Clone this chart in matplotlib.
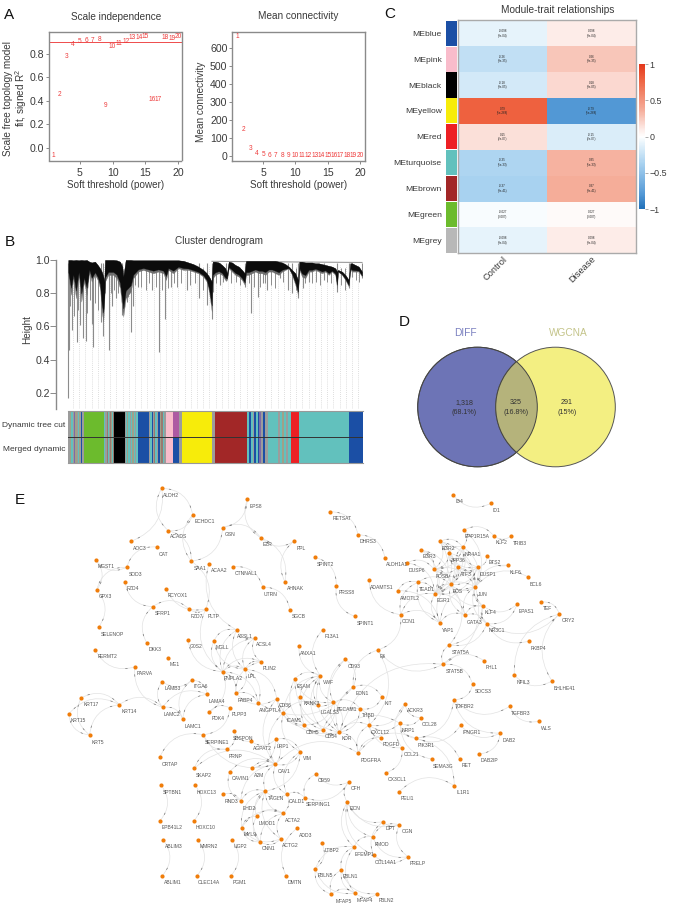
import numpy as np
import matplotlib
matplotlib.use("Agg")
import matplotlib.pyplot as plt
from matplotlib.collections import LineCollection, PathCollection
from matplotlib.colors import LinearSegmentedColormap
from matplotlib.patches import Circle
from matplotlib.path import Path

plt.rcParams["font.family"] = ["Liberation Sans", "DejaVu Sans"]
plt.rcParams["axes.unicode_minus"] = False
plt.rcParams["mathtext.default"] = "regular"

W, H = 676, 909
TXT = "#3a3a3a"
AXC = "#8a8a8a"

# panel A
powers = list(range(1, 21))
scale_fit = [-0.07, 0.453, 0.777, 0.883, 0.908, 0.914, 0.917, 0.923, 0.362, 0.866,
             0.891, 0.908, 0.937, 0.937, 0.948, 0.41, 0.413, 0.945, 0.931, 0.948]
mean_conn = [661, 146, 43, 15, 7, 4, 3, 2, 1, 1, 1, 1, 1, 1, 1, 1, 1, 1, 1, 1]

# panel B
drop_x = [68.3, 69.3, 71.7, 76.7, 82.7, 85.7, 80, 93.3, 92.3, 102.7, 101.3, 108.7, 112.3, 122.3,
          116, 131, 126.7, 133, 138.3, 152.3, 159, 165, 170.7, 186.7, 199.3, 207.3, 211.7,
          212.7, 220.3, 226, 245.3, 251.3, 258, 263, 267, 280.3, 288, 292, 298, 302.7, 308.7,
          323.7, 337, 348.7, 352, 362]
drop_h = [.167, .458, .578, .508, .532, .512, .608, .478, .613, .544, .628, .458, .72, .669,
          .77, .564, .749, .72, .84, .82, .448, .643, .84, .82, .77, .73, .644,
          .81, .85, .873, .84, .679, .779, .86, .82, .892, .82, .8, .773, .83, .87,
          .88, .81, .833, .9, .89]
band_x = [68.3, 71, 73.3, 76, 78.7, 81.3, 84, 86.7, 89.3, 91.7, 95, 97.7, 100, 101.7, 103.3, 104.3,
          105, 108.3, 113.3, 116.7, 120, 122.3, 123.3, 125.7, 128.3, 130.7, 133.3, 138.3, 143.3,
          148.3, 153.3, 158.3, 163.3, 166, 168.3, 173.3, 178.3, 183.3, 188.3, 193.3, 198.3, 203.3,
          206.7, 209, 211.7, 212.7, 215.3, 218.7, 222, 225.3, 227, 228.7, 232, 235.3, 238.7, 242,
          244.7, 246, 248.7, 252, 255.3, 258.7, 262, 265.3, 268.7, 272, 275.3, 278.7, 282, 285.3,
          288.7, 292, 295.3, 298, 299.3, 302, 305.3, 308.7, 312, 315.3, 318.7, 322, 325.3, 328.7,
          332, 335.3, 337, 338, 342, 345.3, 348.7, 350.3, 352, 355.3, 358.7, 362]
band_top = [1.0, 1.0, .998, 1.0, .998, 1.0, .998, 1.0, .99, .985, .99, .97, .95, .93, .9, .87,
            1.0, 1.0, 1.0, .998, .99, .96, .9, 1.0, 1.0, 1.0, .998, .998, .998,
            .998, .998, .998, .998, .998, .998, .998, .998, .995, .985, .975, .96, .94,
            .92, .9, .87, .99, .99, .985, .97, .95, .92, .99, .985, .97, .96, .94,
            .92, .995, .995, .995, .995, .995, .995, .995, .995, .995, .995, .99, .985, .975,
            .96, .94, .92, .88, .99, .99, .985, .985, .985, .98, .98, .975, .97, .965,
            .96, .95, .93, .94, .93, .91, .88, .98, .98, .97, .96, .93]
band_bottom = [.91, .79, .89, .769, .91, .749, .869, .79, .93, .869, .91, .879, .83, .689, .628, .75,
               .869, .91, .91, .89, .83, .699, .66, .769, .79, .809, .89, .93, .94,
               .93, .92, .93, .92, .879, .94, .92, .95, .94, .94, .93, .92, .9,
               .869, .809, .689, .89, .91, .92, .91, .879, .88, .95, .93, .91, .9, .879,
               .85, .91, .91, .92, .93, .92, .92, .91, .93, .93, .92, .91, .93, .94,
               .95, .91, .85, .79, .94, .9, .89, .93, .93, .94, .93, .92, .93, .91,
               .93, .91, .83, .93, .91, .88, .84, .94, .93, .93, .93, .9]
short_x = [70, 74, 78, 83, 87, 90, 95, 98, 105, 111, 114, 118, 125, 128, 135, 141, 146, 149, 156, 162,
           168, 174, 177, 181, 190, 195, 203, 216, 223, 231, 236, 240, 249, 254, 260, 265, 271, 275,
           283, 296, 305, 312, 316, 320, 327, 331, 341, 345, 356, 359]
short_h = [.72, .66, .7, .62, .68, .76, .74, .7, .8, .8, .82, .8, .8, .78, .85, .84, .82, .86, .84, .82,
           .83, .86, .84, .86, .85, .86, .82, .86, .87, .86, .87, .85, .86, .84, .84, .86, .85, .83,
           .87, .82, .86, .86, .87, .85, .87, .86, .85, .82, .88, .87]

GY, OL, TE, BL, GR = "#9c9c9c", "#a0a088", "#62c1bd", "#1b4fa5", "#6cbb2d"
BR, PU, PI, MA, YE = "#9a7a70", "#7d6aa8", "#f9bccb", "#ad5aa2", "#f7ec0a"
DB, RE, BK = "#a22727", "#ed2024", "#000000"
strip_edges = [68, 70, 71, 72.5, 74, 75, 76.5, 78, 79, 80, 81, 82, 84, 104, 105, 106.5, 107.5, 108.5,
               110, 111, 112, 113, 114, 124.7, 126, 127, 128, 129.5, 131, 132, 133.5, 135, 136, 138,
               149, 150, 151.5, 153, 154, 155, 156.5, 158, 159.5, 161, 163, 164, 165.7, 172.7, 179.3,
               182, 212.3, 215, 247.3, 249, 251, 252.5, 254, 256, 257.5, 259, 261, 263, 265, 268,
               278, 280, 282, 284, 286, 288, 290.7, 298.3, 349, 362.7]
strip_cut = [GY, OL, TE, GY, PU, OL, GY, TE, OL, GY, BL, GY, GR, TE, GY, BR, TE, GY,
             BR, OL, TE, BR, BK, GY, TE, OL, TE, GY, TE, OL, TE, GY, TE, BL,
             GY, TE, BL, GY, BR, TE, GY, BL, OL, BR, TE, GY, PI, MA, GY,
             YE, GY, DB, TE, BL, TE, GY, BL, TE, BL, PU, GY, BL, GY, TE,
             GY, TE, OL, TE, GY, TE, RE, TE, BL]
strip_merged = [c if c != MA else BL for c in strip_cut]

# panel C
module_names = ["MEblue", "MEpink", "MEblack", "MEyellow", "MEred", "MEturquoise", "MEbrown", "MEgreen", "MEgrey"]
module_colors = ["#1b4fa5", "#f9bccb", "#000000", "#f7ec0a", "#ed2024", "#62c1bd", "#a22727", "#6cbb2d", "#b8b8b8"]
trait_names = ["Control", "Disease"]
control_cor = [-0.098, -0.26, -0.18, 0.79, 0.15, -0.35, -0.37, -0.027, -0.098]
disease_cor = [0.098, 0.26, 0.18, -0.79, -0.15, 0.35, 0.37, 0.027, 0.098]
control_lab = ["-0.098", "-0.26", "-0.18", "0.79", "0.15", "-0.35", "-0.37", "-0.027", "-0.098"]
disease_lab = ["0.098", "0.26", "0.18", "-0.79", "-0.15", "0.35", "0.37", "0.027", "0.098"]
pvals = ["3e-04", "3e-35", "3e-05", "5e-268", "2e-07", "5e-33", "3e-41", "0.007", "3e-04"]

# panel D
venn_counts = ["1,318\n(68.1%)", "325\n(16.8%)", "291\n(15%)"]

# panel E, node positions
genes = ["ALDH2", "ECHDC1", "ACADS", "AOC3", "CAT", "EPS8", "GSN", "EZR", "PPL", "RETSAT",
         "SPINT2", "MGST1", "SOD3", "SAA1", "ACAA2", "CTNNAL1", "FZD4", "GPX3", "PCYOX1", "UTRN",
         "AHNAK", "PRSS8", "SFRP1", "FZD7", "PLTP", "SGCB", "SELENOP", "F13A1", "DKK3", "G0S2",
         "MGLL", "ACSL1", "ACSL4", "ANXA1", "FERMT2", "ME1", "PLIN2", "PARVA", "PNPLA2", "LPL",
         "LAMB3", "ITGA6", "ESAM", "VWF", "LAMA4", "FABP4", "KRT17", "KRT14", "KRT15", "KRT5",
         "LAMC2", "LAMC1", "PDK4", "PLPP3", "ANGPTL4", "CD36", "KANK3", "LGALS3", "PECAM1", "ICAM1",
         "CDH5", "CD34", "KDR", "SERPINE1", "SBSPON", "AGPAT2", "LRP1", "PRNP", "VIM", "CRTAP",
         "SKAP2", "A2M", "CAV1", "CAVIN1", "CD59", "SPTBN1", "HOXC13", "RND3", "EHD2", "TAGLN",
         "CALD1", "SERPING1", "ACTA2", "LMOD1", "MYL9", "ADD3", "EPB41L2", "HOXC10", "ABLIM3", "MMRN2",
         "UGP2", "CNN1", "ACTG2", "LTBP2", "ABLIM1", "CLEC14A", "PGM1", "DMTN", "FBLN5", "MFAP5",
         "ID4", "ID1", "PPP1R15A", "KLF2", "TRIB3", "EGR2", "NR4A1", "ZFP36", "EGR3", "ETS2",
         "KLF6", "DHRS3", "ALDH1A1", "DUSP6", "FOSB", "ATF3", "DUSP1", "BCL6", "ADAMTS1", "TEAD1",
         "FOS", "JUN", "AMOTL2", "EGR1", "KLF4", "EPAS1", "TEF", "CRY2", "CCN1", "GATA3",
         "NR3C1", "YAP1", "SPINT1", "FKBP4", "STAT5A", "F3", "FHL1", "CD93", "STAT5B", "NFIL3",
         "BHLHE41", "SOCS3", "EDN1", "KIT", "ACKR3", "TGFBR2", "TGFBR3", "WLS", "THBD", "CCL28",
         "IFNGR1", "NRP1", "CXCL12", "PDGFD", "PIK3R1", "DAB2", "CCL21", "PDGFRA", "DAB2IP", "SEMA3G",
         "RET", "CX3CL1", "CFH", "IL1R1", "PELI1", "DCN", "DPT", "OGN", "FMOD", "EFEMP1",
         "COL14A1", "PRELP", "FBLN1", "MFAP4", "FBLN2"]
node_x = [161.7, 192.7, 168.3, 131, 157, 247.3, 222.7, 260.7, 294.3, 330.3,
          314.7, 95.7, 126.7, 191.3, 209, 233.3, 125, 96.7, 166, 262.7,
          285, 336.3, 152.7, 189, 205.7, 290, 98.7, 322.7, 146.7, 188,
          214, 236.7, 254.7, 299, 95.3, 168, 261, 134.7, 222.7, 245,
          162.3, 192, 294.7, 320.3, 207.3, 235.7, 81, 119.3, 68.7, 89.7,
          162.7, 182.7, 209.3, 230, 258.3, 276.7, 300, 318.3, 333.3, 283.3,
          304.3, 322.7, 339.3, 203.3, 234.3, 250.7, 275.7, 226.7, 300.3, 159.7,
          194.3, 251.7, 275.3, 229.7, 316, 161, 195, 223, 240.7, 265.3,
          286.7, 304.7, 283.3, 256.7, 241.7, 297, 160, 194, 163.3, 198,
          232, 260.3, 280.7, 322, 162.3, 197, 231, 286.3, 315.3, 331.3,
          453, 491, 464, 493.7, 510.7, 440, 462.7, 449.3, 420.7, 487.3,
          507.7, 358, 385, 406.7, 434, 458, 477.7, 528.3, 369, 418,
          450.7, 475.3, 397.7, 434.7, 483, 517, 541, 559.3, 400.7, 465,
          487, 440, 354.7, 529, 449.3, 377.7, 484, 345.3, 443, 514.3,
          552, 472.7, 353.3, 382, 405, 453.7, 509.7, 538.7, 360, 420.7,
          460.7, 400, 369, 381, 415.7, 500.3, 402, 358.3, 479.3, 431.7,
          459.7, 386, 348.7, 454.3, 399, 347.3, 383.3, 399.3, 372.7, 354,
          373.7, 408, 341.3, 355.3, 377]
node_y = [488.3, 514.7, 530.7, 541.3, 547, 499.3, 527.7, 537.7, 541, 511.7,
          557.3, 560, 567.3, 561.3, 563.7, 566.7, 582, 590, 588.7, 587,
          582, 586, 606.7, 609, 609, 609.7, 627, 629.7, 642.7, 640,
          640.7, 630, 638, 646.3, 650, 658, 661.7, 667, 671.7, 669.3,
          681.7, 680, 679, 675.7, 694.3, 693.3, 698, 704.7, 714, 735,
          707.3, 719, 712, 708, 703.3, 698.7, 696.7, 705, 702.3, 713,
          725, 729.7, 732.3, 734.7, 731, 741.3, 739.3, 749.3, 751.7, 757.3,
          768.3, 768.3, 764.3, 771.7, 774, 785, 785, 794.3, 801, 791,
          794.3, 797.7, 813.3, 816.3, 827.7, 828.3, 820.7, 820.7, 840, 840,
          840, 842, 838.7, 843.3, 875.7, 875.7, 875.7, 876, 868.7, 894.3,
          494.7, 503.3, 530, 535.7, 536.3, 541.3, 547, 553, 550, 555.7,
          565.3, 534.7, 558, 562.7, 569.3, 567.3, 567, 577, 580.3, 582.3,
          584.3, 587, 590.7, 593.7, 606, 604.3, 602, 614, 614.7, 615,
          623.7, 622.7, 616.3, 641, 645, 650, 660.7, 659.3, 664.3, 675,
          681, 684.3, 687, 696.7, 704, 699.7, 706.3, 721.3, 708.7, 717.7,
          725.3, 723.3, 725.3, 737.7, 738.3, 733, 747.7, 753, 754, 759,
          758.7, 772.7, 782, 785.7, 792, 802, 821.7, 824.7, 837, 847,
          855.3, 856.7, 870, 893.3, 893.7]
label_x = [171.3, 204.7, 178.7, 139.7, 164, 256, 230, 267.7, 301.3, 342,
           325, 105.7, 135.7, 199.7, 219, 246, 132.7, 105, 177.7, 270.7,
           295.7, 346.7, 162.3, 197, 214, 299, 112, 331.7, 155, 196,
           222, 245, 264, 308.7, 107, 175, 269.7, 145, 233.3, 251.7,
           172.3, 201, 303.7, 328.3, 217.3, 245.7, 91.3, 129, 78, 98,
           172.3, 192.7, 217.7, 239.7, 270, 285, 311.7, 330, 347.3, 294.3,
           312.7, 330.7, 347.3, 217, 243.3, 262.3, 283.3, 235.3, 307, 169.7,
           204, 259, 283.7, 240.3, 324, 172.7, 206.7, 231.7, 249, 275.7,
           296.7, 318.7, 292.7, 267, 250, 305.3, 172.3, 205.7, 174, 208.7,
           240.3, 268.7, 290.7, 331.7, 172.7, 209.3, 239.7, 295.3, 325, 343.3,
           459, 496.7, 477.3, 501.3, 519.7, 448.3, 472.3, 458.7, 429.3, 495,
           515.7, 368, 397.3, 416.7, 442, 466.3, 487.7, 536.3, 382, 426.7,
           457.7, 482.7, 409.7, 443, 491, 526.7, 547.3, 568, 409, 474.7,
           496.7, 448, 365, 538.7, 460.3, 382.7, 491.7, 353.7, 454.3, 523,
           564.3, 482.7, 362, 388, 415, 465, 521, 546, 368.7, 430,
           471.3, 408, 380, 391.3, 425.7, 509, 411.3, 370.7, 489.7, 443.3,
           466.7, 397, 355.7, 462.7, 407.3, 354.7, 390.3, 407, 381.7, 364,
           386, 418, 350.7, 365.3, 386.3]
label_y = [495.3, 521.3, 537, 548.7, 554, 506, 534.7, 544.7, 548, 518.5,
           564.7, 567, 574.3, 568.3, 570.7, 573.7, 589, 597, 595.7, 594,
           589, 593, 613.7, 616, 616, 616.7, 634, 636.7, 649.7, 647,
           647.7, 637, 645, 653.3, 657, 665, 668.7, 673.7, 678.7, 676.3,
           688.7, 687, 686, 682.3, 701.7, 700, 705, 711.7, 721, 742,
           714.7, 726, 719, 715, 710.3, 705.7, 703.7, 712, 709.7, 720,
           732, 737, 739, 742, 738, 748.3, 746.3, 756.3, 758.7, 764.3,
           775.3, 775.3, 771.3, 778.7, 781, 792, 792, 801.3, 808.3, 798.3,
           801.3, 804.7, 820.3, 823.3, 835, 835.7, 827.7, 827.7, 847, 847,
           847, 849, 845.7, 850.3, 882.7, 882.7, 882.7, 883, 875.7, 901.7,
           501.7, 510.3, 537, 543, 543.3, 548.3, 554, 560, 557, 562.7,
           572.3, 541.7, 565, 570, 576.3, 574.3, 574, 584.3, 587.7, 589.3,
           591.3, 594, 598, 601, 613, 611.3, 609, 621, 621.7, 622,
           631, 630, 623.7, 648, 652, 657, 667.7, 666.3, 671.3, 682,
           688, 691.3, 693.7, 703.7, 711, 706.7, 713.3, 728.3, 715.7, 724.7,
           732.3, 730.3, 732.3, 745, 745.3, 740, 754.7, 760.3, 761, 766,
           765.7, 779.7, 789, 792.7, 799, 809, 828.7, 831.7, 844, 854,
           862.3, 863.7, 877, 900.3, 900.7]

edges_metabolic = """ALDH2 ACADS,AOC3 ALDH2,ECHDC1 SAA1,ECHDC1 ALDH2,ACADS ECHDC1,SAA1 GSN,GSN EPS8,EPS8 EZR,EZR GSN,EZR PPL,AHNAK EZR,PPL AHNAK,
CAT SOD3,MGST1 SOD3,GPX3 MGST1,SOD3 GPX3,SELENOP GPX3,FZD4 SFRP1,SFRP1 DKK3,FZD7 SFRP1,PCYOX1 PLTP,FZD7 PLTP,PLTP SAA1,SAA1 ACADS,
ACAA2 ACSL1,UTRN CTNNAL1,SGCB UTRN,PRSS8 SPINT2,PRSS8 SPINT1,DHRS3 RETSAT,ALDH1A1 DHRS3,ID4 ID1,
ACSL1 ACSL4,ACSL1 PNPLA2,ACSL1 LPL,ACSL4 PLIN2,ACSL4 LPL,ACSL4 PNPLA2,PLIN2 PNPLA2,PLIN2 LPL,LPL PNPLA2,MGLL PNPLA2,MGLL LPL,
G0S2 PNPLA2,ACSL1 MGLL,PLTP PNPLA2,FABP4 PNPLA2,FABP4 LPL,FABP4 CD36,PLIN2 FABP4,CD36 LPL,ANGPTL4 LPL,ANGPTL4 PNPLA2,ANGPTL4 FABP4,
PDK4 PNPLA2,FERMT2 PARVA,PARVA LAMC2,LAMB3 LAMC2,LAMB3 ITGA6,ITGA6 LAMC1,LAMA4 LAMC1,LAMA4 LAMC2,LAMC1 LAMC2,LAMA4 ITGA6,
LAMC2 KRT14,KRT14 KRT5,KRT17 KRT5,KRT15 KRT5,KRT14 KRT17,KRT14 KRT15,SERPINE1 CRTAP,SERPINE1 PRNP,SERPINE1 PLPP3,SERPINE1 CAV1,PLPP3 PDK4"""
edges_endothelial = """VWF ESAM,VWF CD34,VWF KDR,VWF PECAM1,VWF CDH5,VWF ICAM1,VWF KANK3,VWF LGALS3,ANXA1 VWF,F13A1 VWF,ESAM CDH5,ESAM PECAM1,ESAM KDR,
CDH5 KDR,CDH5 CD34,CDH5 PECAM1,CD34 KDR,CD34 PECAM1,KDR PECAM1,KDR THBD,THBD PECAM1,THBD CD34,THBD KIT,KIT EDN1,EDN1 KDR,EDN1 CD93,CD93 KDR,
CD93 PECAM1,KANK3 CD34,KANK3 PECAM1,LGALS3 ICAM1,ICAM1 CDH5,ICAM1 VIM,ICAM1 CAV1,CD36 CDH5,CD36 KDR,CD36 CAV1,ANGPTL4 EDN1,CXCL12 KDR,CXCL12 PDGFRA,
CXCL12 PDGFD,CXCL12 NRP1,CXCL12 CCL21,CXCL12 ACKR3,CXCL12 THBD,CXCL12 F3,F3 EDN1,PDGFD PDGFRA,PDGFRA KDR,PDGFRA CAV1,NRP1 KDR,NRP1 PIK3R1,NRP1 SEMA3G,
NRP1 CCL28,PIK3R1 PDGFRA,IL1R1 PIK3R1,RET PIK3R1,PIK3R1 TGFBR2,PIK3R1 IFNGR1,ACKR3 CCL28,ACKR3 CCL21,CX3CL1 CCL21,IL1R1 PELI1,DAB2IP DAB2,IFNGR1 DAB2,
TGFBR2 TGFBR3,TGFBR3 WLS,TGFBR2 DAB2,TGFBR2 SOCS3,SOCS3 STAT5B,STAT5A STAT5B,FHL1 STAT5B,F3 STAT5B,STAT5B KDR,STAT5A NR3C1,STAT5A FOS,STAT5A KLF4,STAT5B JUN"""
edges_early = """FOS JUN,FOS EGR1,FOS FOSB,FOS ATF3,FOS DUSP1,FOS KLF4,FOS NR4A1,FOS EGR2,FOS EGR3,FOS ZFP36,FOS GATA3,FOS YAP1,FOS TEAD1,JUN EGR1,JUN FOSB,JUN ATF3,
JUN DUSP1,JUN KLF4,JUN NR4A1,JUN EGR2,JUN ZFP36,JUN NR3C1,JUN GATA3,JUN YAP1,JUN PPP1R15A,EGR1 EGR2,EGR1 EGR3,EGR1 FOSB,EGR1 ATF3,EGR1 DUSP1,EGR1 NR4A1,
EGR1 ZFP36,EGR1 DUSP6,EGR1 CCN1,EGR1 YAP1,EGR1 TEAD1,TEAD1 YAP1,TEAD1 AMOTL2,TEAD1 CCN1,YAP1 CCN1,YAP1 AMOTL2,ADAMTS1 CCN1,F3 CCN1,FOSB ATF3,FOSB EGR2,
FOSB EGR3,FOSB NR4A1,FOSB DUSP6,FOSB ZFP36,FOSB DUSP1,NR4A1 PPP1R15A,NR4A1 EGR2,NR4A1 ZFP36,NR4A1 DUSP1,NR4A1 ATF3,ZFP36 EGR2,ZFP36 ATF3,ZFP36 DUSP1,
ATF3 DUSP1,DUSP1 KLF4,DUSP1 ETS2,KLF2 TRIB3,KLF2 PPP1R15A,ETS2 KLF6,KLF6 JUN,BCL6 JUN,KLF4 NR3C1,KLF4 GATA3,KLF4 EPAS1,NR3C1 EPAS1,NR3C1 FKBP4,NR3C1 CRY2,
NR3C1 GATA3,GATA3 YAP1,GATA3 EGR1,CRY2 TEF,CRY2 BHLHE41,CRY2 NFIL3,NFIL3 BHLHE41"""
edges_contractile = """CAV1 A2M,CAV1 CAVIN1,CAV1 SKAP2,CAV1 LRP1,CAV1 VIM,CAV1 TAGLN,CAV1 CALD1,CAV1 EHD2,CAVIN1 EHD2,EHD2 RND3,TAGLN ACTA2,TAGLN LMOD1,TAGLN MYL9,TAGLN CNN1,
TAGLN ACTG2,TAGLN CALD1,TAGLN EHD2,TAGLN VIM,ACTA2 LMOD1,ACTA2 MYL9,ACTA2 CNN1,ACTA2 ACTG2,ACTA2 CALD1,LMOD1 MYL9,LMOD1 CNN1,MYL9 CNN1,MYL9 ACTG2,CNN1 ACTG2,
ADD3 DMTN,CD59 SERPING1,SERPING1 CALD1,SERPING1 CFH,VIM LRP1,VIM CALD1,PRNP SBSPON,SBSPON AGPAT2,AGPAT2 LRP1,A2M LRP1,PRNP SKAP2,EPB41L2 SPTBN1,HOXC10 HOXC13,
ABLIM1 ABLIM3,CLEC14A MMRN2,PGM1 UGP2,DCN DPT,DCN OGN,DCN FMOD,DCN EFEMP1,DCN COL14A1,DPT OGN,OGN PRELP,OGN FMOD,FMOD PRELP,FMOD EFEMP1,DPT COL14A1,COL14A1 PRELP,
EFEMP1 FBLN1,EFEMP1 FBLN5,EFEMP1 MFAP4,FBLN1 FBLN2,FBLN1 MFAP4,FBLN1 MFAP5,FBLN5 MFAP4,FBLN5 LTBP2,FBLN5 MFAP5,MFAP4 FBLN2,MFAP4 MFAP5,CFH DCN,CD59 CFH"""


def px_axes(fig, left, top, right, bottom):
    return fig.add_axes([left / W, 1 - bottom / H, (right - left) / W, (bottom - top) / H])


def style_axis(ax):
    for s in ax.spines.values():
        s.set_color(AXC)
        s.set_linewidth(1.0)
    ax.tick_params(color=AXC, labelcolor=TXT, labelsize=7.6, length=2.5, width=0.7, pad=3)
    ax.tick_params(axis="y", pad=1)


fig = plt.figure(figsize=(W / 100, H / 100), dpi=100)

# full figure layer in pixel coordinates, used by the network, venn and panel texts
bg = fig.add_axes([0, 0, 1, 1])
bg.set_xlim(0, W)
bg.set_ylim(H, 0)
bg.axis("off")

for letter, lx, ly in [("A", 9.5, 15), ("B", 10, 241.5), ("C", 390, 14), ("D", 404.5, 322), ("E", 20, 500)]:
    bg.text(lx, ly, letter, fontsize=11, color="#111111", ha="center", va="center")

# A: scale independence
ax = px_axes(fig, 49, 32, 181.5, 160.5)
for p, v in zip(powers, scale_fit):
    ax.text(p, v, str(p), color="#ee3b3b", fontsize=4.7, ha="center", va="center")
ax.axhline(0.9, color="#ee4b4b", lw=0.7)
ax.set_xlim(0.33, 20.5)
ax.set_ylim(-0.11, 0.988)
ax.set_xticks([5, 10, 15, 20])
ax.set_yticks([0, 0.2, 0.4, 0.6, 0.8])
ax.set_yticklabels(["0.0", "0.2", "0.4", "0.6", "0.8"])
style_axis(ax)
ax.set_xlabel("Soft threshold (power)", fontsize=7.1, color=TXT, labelpad=1)
bg.text(8.5, 98, "Scale free topology model", rotation=90, fontsize=7.2, color=TXT, ha="center", va="center")
bg.text(21.5, 98, "fit, signed R$^2$", rotation=90, fontsize=7.2, color=TXT, ha="center", va="center")
bg.text(116, 17, "Scale independence", fontsize=7.2, color=TXT, ha="center", va="center")

# A: mean connectivity
ax = px_axes(fig, 232.3, 32, 364.7, 160.5)
for p, v in zip(powers, mean_conn):
    ax.text(p, v, str(p), color="#ee3b3b", fontsize=4.7, ha="center", va="center")
ax.set_xlim(0.25, 20.72)
ax.set_ylim(-25, 687)
ax.set_xticks([5, 10, 15, 20])
ax.set_yticks([0, 100, 200, 300, 400, 500, 600])
style_axis(ax)
ax.set_xlabel("Soft threshold (power)", fontsize=7.1, color=TXT, labelpad=1)
bg.text(201, 102, "Mean connectivity", rotation=90, fontsize=7.2, color=TXT, ha="center", va="center")
bg.text(298, 16, "Mean connectivity", fontsize=7.2, color=TXT, ha="center", va="center")

# B: dendrogram
ax = px_axes(fig, 56.3, 260, 363, 409)
ax.set_xlim(56.3, 363)
ax.set_ylim(0.102, 1.0)
ax.vlines(np.arange(73, 363, 6.2), 0.102, 0.97, color="#d4d4d4", lw=0.6, linestyles=(0, (1, 1.5)), zorder=1)
ax.vlines(drop_x, drop_h, 0.98, color="#8c8c8c", lw=0.8, zorder=2)
ax.vlines(short_x, short_h, 0.95, color="#8c8c8c", lw=0.7, zorder=2)
# deep part of the band fades to grey like the thin drops, upper part stays black
band_top_arr = np.array(band_top)
band_low_arr = np.array(band_bottom)
ax.fill_between(band_x, band_low_arr, band_top_arr, color="#6e6e6e", lw=0.2, zorder=3)
ax.fill_between(band_x, band_low_arr + 0.2 * (band_top_arr - band_low_arr), band_top_arr, color="#0c0c0c", lw=0.2, zorder=4)
ax.plot([212, 362], [0.992, 0.985], color="#999999", lw=0.8, zorder=3)
for s in ["top", "right", "bottom"]:
    ax.spines[s].set_visible(False)
style_axis(ax)
ax.set_xticks([])
ax.set_yticks([0.2, 0.4, 0.6, 0.8, 1.0])
ax.tick_params(axis="y", length=4, pad=0.5)
bg.text(27, 329, "Height", rotation=90, fontsize=7.2, color=TXT, ha="center", va="center")
bg.text(219, 241.5, "Cluster dendrogram", fontsize=7.2, color=TXT, ha="center", va="center")

# B: module colour strips
ax = px_axes(fig, 68, 411.3, 363, 463.3)
ax.set_xlim(68, 362.7)
ax.set_ylim(2, 0)
strip_left = np.array(strip_edges[:-1])
strip_width = np.diff(strip_edges)
ax.barh(0.5, strip_width, left=strip_left, height=1, color=strip_cut, lw=0)
ax.barh(1.5, strip_width, left=strip_left, height=1, color=strip_merged, lw=0)
ax.axhline(1, color="#333333", lw=0.7)
ax.set_xticks([])
ax.set_yticks([])
for s in ["left", "right"]:
    ax.spines[s].set_visible(False)
for s in ["top", "bottom"]:
    ax.spines[s].set_color("#999999")
bg.text(65.5, 425.7, "Dynamic tree cut", fontsize=6.0, color=TXT, ha="right", va="center")
bg.text(65.5, 449.3, "Merged dynamic", fontsize=6.0, color=TXT, ha="right", va="center")

# C: module trait heatmap
cmap = LinearSegmentedColormap.from_list("bwr_trait", [
    (0.0, "#1f6fb8"), (0.105, "#5499d6"), (0.315, "#a9d2f0"), (0.45, "#e6f3fb"), (0.5, "#ffffff"),
    (0.55, "#fdece8"), (0.685, "#f5ad9a"), (0.895, "#ee6240"), (1.0, "#e4381c")])
cor = np.array([control_cor, disease_cor]).T
ax = px_axes(fig, 458.3, 20.3, 636, 253.3)
mesh = ax.pcolormesh(cor, cmap=cmap, vmin=-1, vmax=1)
ax.set_ylim(len(module_names), 0)
for i, pv in enumerate(pvals):
    ax.text(0.5, i + 0.5, f"{control_lab[i]}\n({pv})", fontsize=2.2, color="#222222", ha="center", va="center")
    ax.text(1.5, i + 0.5, f"{disease_lab[i]}\n({pv})", fontsize=2.2, color="#222222", ha="center", va="center")
ax.set_xticks([0.5, 1.5])
ax.set_xticklabels(trait_names, rotation=45, ha="right", rotation_mode="anchor", fontsize=6.7, color=TXT)
ax.tick_params(length=0, pad=1)
ax.set_yticks([])
for s in ax.spines.values():
    s.set_color("#aaaaaa")
    s.set_linewidth(1.0)
bg.text(558, 10, "Module-trait relationships", fontsize=7.3, color=TXT, ha="center", va="center")

strip = px_axes(fig, 446, 20.3, 456.7, 253.3)
strip.barh(range(len(module_names)), 1, height=0.97, color=module_colors)
strip.set_xlim(0, 1)
strip.set_ylim(len(module_names) - 0.5, -0.5)
strip.set_xticks([])
strip.set_yticks(range(len(module_names)))
strip.set_yticklabels(module_names, fontsize=6.1, color=TXT)
strip.tick_params(length=0, pad=3)
for s in strip.spines.values():
    s.set_visible(False)

cax = px_axes(fig, 639.3, 64, 644.7, 209.3)
cb = fig.colorbar(mesh, cax=cax)
cb.set_ticks([-1, -0.5, 0, 0.5, 1])
cb.set_ticklabels(["\u22121", "\u22120.5", "0", "0.5", "1"])
cb.ax.tick_params(labelsize=6.4, length=2.5, width=0.5, color=AXC, labelcolor=TXT, pad=1)
cb.outline.set_visible(False)

# D: venn
left_c = Circle((477.5, 407), 59.8, fc="#6d74b6", ec="#555555", lw=0.7)
right_c = Circle((555.5, 407), 59.8, fc="#f3ef82", ec="#555555", lw=0.7)
bg.add_patch(left_c)
bg.add_patch(right_c)
both = Circle((555.5, 407), 59.8, fc="#b5b37b", ec="#444444", lw=0.7)
bg.add_patch(both)
both.set_clip_path(left_c)
edge_l = Circle((477.5, 407), 59.8, fc="none", ec="#444444", lw=0.7)
bg.add_patch(edge_l)
bg.text(465.5, 332.5, "DIFF", fontsize=7.3, color="#7a80c0", ha="center", va="center")
bg.text(568, 332.5, "WGCNA", fontsize=7.3, color="#c4c48a", ha="center", va="center")
for tx, txt in zip([464, 516, 567], venn_counts):
    bg.text(tx, 407.5, txt, fontsize=5.1, color="#333333", ha="center", va="center", linespacing=1.75)

# E: network
pos = {g: (x, y) for g, x, y in zip(genes, node_x, node_y)}
pairs = []
for chunk in [edges_metabolic, edges_endothelial, edges_early, edges_contractile]:
    for item in chunk.replace("\n", "").split(","):
        if item:
            pairs.append(item.split())

curves = []
ticks = []
for a, b in pairs:
    p0 = np.array(pos[a])
    p2 = np.array(pos[b])
    d = p2 - p0
    dist = np.hypot(*d)
    ctrl = (p0 + p2) / 2 + 0.4 * np.array([-d[1], d[0]])
    curves.append(Path([p0, ctrl, p2], [Path.MOVETO, Path.CURVE3, Path.CURVE3]))
    # little arrow marks close to both ends of the arc
    for start, end, c in [(p0, p2, ctrl), (p2, p0, ctrl)]:
        t1 = min(6.0 / dist, 0.4)
        t2 = min(8.0 / dist, 0.46)
        m1 = (1 - t1) ** 2 * start + 2 * t1 * (1 - t1) * c + t1 ** 2 * end
        m2 = (1 - t2) ** 2 * start + 2 * t2 * (1 - t2) * c + t2 ** 2 * end
        ticks.append([m1, m2])

bg.add_collection(PathCollection(curves, facecolors="none", edgecolors="#e2e2e2", linewidths=0.5, zorder=1))
bg.add_collection(LineCollection(ticks, colors="#6a6a6a", linewidths=0.45, zorder=2))
bg.scatter(node_x, node_y, s=9, color="#f07d0a", lw=0, zorder=3)
for g, lx, ly in zip(genes, label_x, label_y):
    bg.text(lx, ly, g, fontsize=3.6, color="#555555", ha="center", va="center", zorder=4)

fig.savefig("out.png", dpi=100)
